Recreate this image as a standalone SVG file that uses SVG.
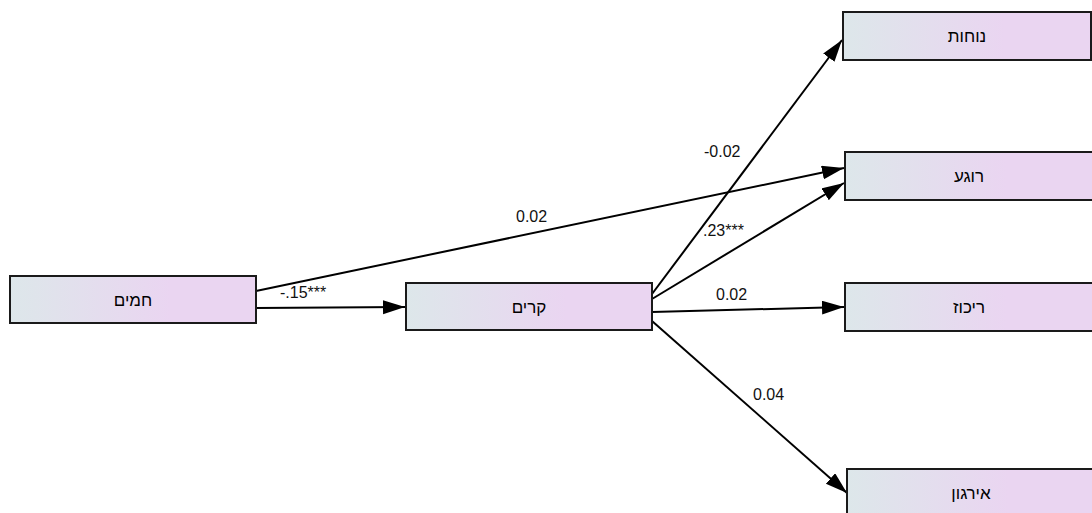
<svg xmlns="http://www.w3.org/2000/svg" width="1092" height="513" viewBox="0 0 1092 513">
<defs>
<linearGradient id="g" x1="0" y1="0" x2="1" y2="0">
<stop offset="0" stop-color="#dde7ea"/>
<stop offset="0.65" stop-color="#ead5f1"/>
<stop offset="1" stop-color="#ead5f1"/>
</linearGradient>
<marker id="ah" markerUnits="userSpaceOnUse" markerWidth="24" markerHeight="16" refX="22" refY="7" orient="auto" viewBox="0 0 24 16">
<path d="M0,0 L22,7 L0,14 z" fill="#000"/>
</marker>
<style>
.box{fill:url(#g);stroke:#1a1a1a;stroke-width:2}
.nt{font-family:"Liberation Sans","DejaVu Sans",sans-serif;font-size:17px;fill:#000;text-anchor:middle}
.e{stroke:#000;stroke-width:2;fill:none;marker-end:url(#ah)}
.lb{font-family:"Liberation Sans",Arial,sans-serif;font-size:16px;fill:#111;direction:ltr;unicode-bidi:embed}
</style>
</defs>
<rect width="1092" height="513" fill="#fff"/>
<g id="connectors">
<line class="e" x1="256" y1="291" x2="844" y2="168"/>
<line class="e" x1="256" y1="308" x2="405" y2="307"/>
<line class="e" x1="652" y1="294" x2="842" y2="40"/>
<line class="e" x1="652" y1="299" x2="844" y2="183"/>
<line class="e" x1="652" y1="312" x2="844" y2="307"/>
<line class="e" x1="652" y1="321" x2="847" y2="493"/>
<text class="lb" x="516" y="222">0.02</text>
<text class="lb" x="280" y="298">-.15***</text>
<text class="lb" x="704" y="157">-0.02</text>
<text class="lb" x="703" y="236">.23***</text>
<text class="lb" x="716" y="300">0.02</text>
<text class="lb" x="753" y="400">0.04</text>
</g>
<g id="node-hamim">
<rect class="box" x="10" y="276" width="246" height="47"/>
<text class="nt" x="133" y="306">חמים</text>
</g>
<g id="node-karim">
<rect class="box" x="406" y="283" width="246" height="47"/>
<text class="nt" x="529" y="313">קרים</text>
</g>
<g id="node-nochut">
<rect class="box" x="843" y="12" width="248" height="48"/>
<text class="nt" x="967" y="42">נוחות</text>
</g>
<g id="node-roga">
<rect class="box" x="845" y="152" width="248" height="48"/>
<text class="nt" x="969" y="182">רוגע</text>
</g>
<g id="node-rikuz">
<rect class="box" x="845" y="283" width="248" height="48"/>
<text class="nt" x="969" y="313">ריכוז</text>
</g>
<g id="node-irgun">
<rect class="box" x="847" y="469" width="248" height="48"/>
<text class="nt" x="971" y="499">אירגון</text>
</g>
</svg>
